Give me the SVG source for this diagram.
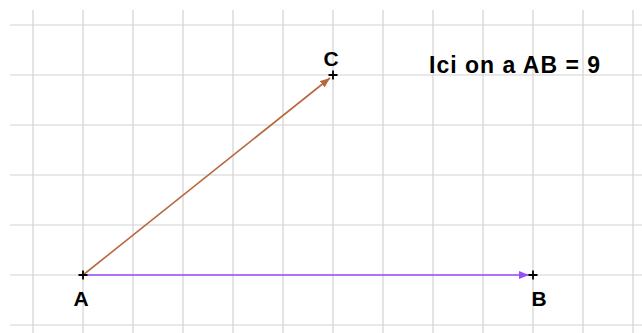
<svg xmlns="http://www.w3.org/2000/svg" width="642" height="333" viewBox="0 0 642 333">
<style>
.grid line{stroke:#d2d2d2;stroke-width:1.2}
.pt{stroke:#000;stroke-width:1.8}
.lbl{font-family:"Liberation Sans",Arial,sans-serif;font-weight:bold;font-size:21px;fill:#000;text-anchor:middle}
.note{font-family:"Liberation Sans",Arial,sans-serif;font-weight:bold;font-size:23px;fill:#000}
</style>
<defs>
<marker id="ap" viewBox="0 0 10 8" refX="10" refY="4" markerWidth="10" markerHeight="8" markerUnits="userSpaceOnUse" orient="auto"><path d="M0,0 L10,4 L0,8 Z" fill="#9a4dfa"/></marker>
<marker id="ab" viewBox="0 0 10 8" refX="10" refY="4" markerWidth="10" markerHeight="8" markerUnits="userSpaceOnUse" orient="auto"><path d="M0,0 L10,4 L0,8 Z" fill="#b8683f"/></marker>
</defs>
<rect width="642" height="333" fill="#fff"/>
<g class="grid">
<line x1="33" y1="10" x2="33" y2="333"/><line x1="83" y1="10" x2="83" y2="333"/><line x1="133" y1="10" x2="133" y2="333"/><line x1="183" y1="10" x2="183" y2="333"/><line x1="233" y1="10" x2="233" y2="333"/><line x1="283" y1="10" x2="283" y2="333"/><line x1="333" y1="10" x2="333" y2="333"/><line x1="383" y1="10" x2="383" y2="333"/><line x1="433" y1="10" x2="433" y2="333"/><line x1="483" y1="10" x2="483" y2="333"/><line x1="533" y1="10" x2="533" y2="333"/><line x1="583" y1="10" x2="583" y2="333"/><line x1="633" y1="10" x2="633" y2="333"/>
<line x1="10" y1="25" x2="642" y2="25"/><line x1="10" y1="75" x2="642" y2="75"/><line x1="10" y1="125" x2="642" y2="125"/><line x1="10" y1="175" x2="642" y2="175"/><line x1="10" y1="225" x2="642" y2="225"/><line x1="10" y1="275" x2="642" y2="275"/><line x1="10" y1="325" x2="642" y2="325"/>
</g>
<g id="connectors">
<line x1="83" y1="275" x2="529" y2="275" stroke="#9a4dfa" stroke-width="1.6" marker-end="url(#ap)"/>
<line x1="83" y1="275" x2="330" y2="78" stroke="#b8683f" stroke-width="1.6" marker-end="url(#ab)"/>
</g>
<g id="A"><path class="pt" d="M78.5,275 H87.5 M83,270.5 V279.5"/><text class="lbl" x="81" y="306">A</text></g>
<g id="B"><path class="pt" d="M528.5,275 H537.5 M533,270.5 V279.5"/><text class="lbl" x="539" y="306">B</text></g>
<g id="C"><path class="pt" d="M328.5,75 H337.5 M333,70.5 V79.5"/><text class="lbl" x="331" y="66">C</text></g>
<g id="note"><text class="note" x="429" y="73" textLength="171" lengthAdjust="spacing">Ici on a AB = 9</text></g>
</svg>
